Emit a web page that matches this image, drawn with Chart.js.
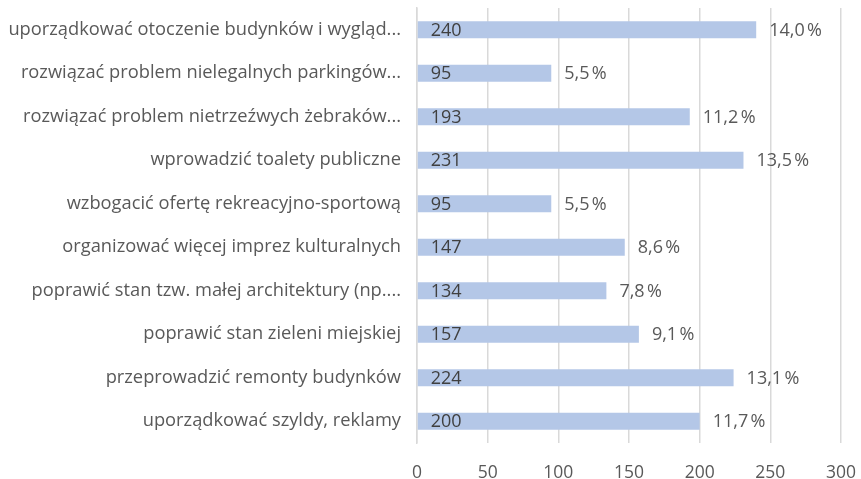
<!DOCTYPE html>
<html>
<head>
<meta charset="utf-8">
<script src="https://cdn.jsdelivr.net/npm/chart.js@4/dist/chart.umd.min.js"></script>
<style>
  html, body { margin: 0; padding: 0; background: #fff; }
  #wrap { width: 861px; height: 479px; }
</style>
</head>
<body>
<div id="wrap"><canvas id="chart"></canvas></div>
<script>
// -------- Data ----------
const categories = [
  "uporządkować otoczenie budynków i wygląd...",
  "rozwiązać problem nielegalnych parkingów...",
  "rozwiązać problem nietrzeźwych żebraków...",
  "wprowadzić toalety publiczne",
  "wzbogacić ofertę rekreacyjno-sportową",
  "organizować więcej imprez kulturalnych",
  "poprawić stan tzw. małej architektury (np....",
  "poprawić stan zieleni miejskiej",
  "przeprowadzić remonty budynków",
  "uporządkować szyldy, reklamy"
];
const counts = [240, 95, 193, 231, 95, 147, 134, 157, 224, 200];
const percents = ["14,0", "5,5", "11,2", "13,5", "5,5", "8,6", "7,8", "9,1", "13,1", "11,7"];
const xTicks = [0, 50, 100, 150, 200, 250, 300];

const FONT = "'Open Sans', sans-serif";
const TEXT = "#595959";
const DARK = "#404040";

// draws the count inside each bar and the percent after it
const barLabels = {
  id: "barLabels",
  afterDatasetsDraw(chart) {
    const ctx = chart.ctx;
    const meta = chart.getDatasetMeta(0);
    ctx.save();
    ctx.font = "18px " + FONT;
    ctx.textBaseline = "middle";
    meta.data.forEach((bar, i) => {
      ctx.fillStyle = DARK;
      ctx.textAlign = "left";
      ctx.fillText(String(counts[i]), bar.base + 13, bar.y + 1);
      ctx.fillStyle = TEXT;
      ctx.fillText(percents[i] + "\u202F%", bar.x + 13, bar.y + 1);
    });
    ctx.restore();
  }
};

new Chart(document.getElementById("chart"), {
  type: "bar",
  data: {
    labels: categories,
    datasets: [{
      data: counts,
      backgroundColor: "#b4c7e7",
      borderWidth: 0,
      barPercentage: 0.39,
      categoryPercentage: 1
    }]
  },
  options: {
    indexAxis: "y",
    responsive: true,
    maintainAspectRatio: false,
    animation: false,
    layout: { padding: { top: 8, right: 0, bottom: 0, left: 0 } },
    plugins: { legend: { display: false }, tooltip: { enabled: false } },
    scales: {
      x: {
        min: 0, max: 300,
        afterBuildTicks: (s) => { s.ticks = xTicks.map(v => ({ value: v })); },
        afterFit: (s) => { s.height = 36; s.paddingLeft = 0; s.paddingRight = 20; },
        grid: { color: "#d9d9d9", lineWidth: 1.5, drawTicks: false },
        border: { display: false },
        ticks: { color: TEXT, font: { family: FONT, size: 17.5 }, padding: 20 }
      },
      y: {
        afterFit: (s) => { s.width = 417; s.paddingTop = 0; s.paddingBottom = 0; },
        grid: { display: false },
        border: { color: "#d9d9d9", width: 1.5 },
        ticks: { color: TEXT, font: { family: FONT, size: 18.3 }, padding: 8, autoSkip: false }
      }
    }
  },
  plugins: [barLabels]
});
</script>
</body>
</html>
